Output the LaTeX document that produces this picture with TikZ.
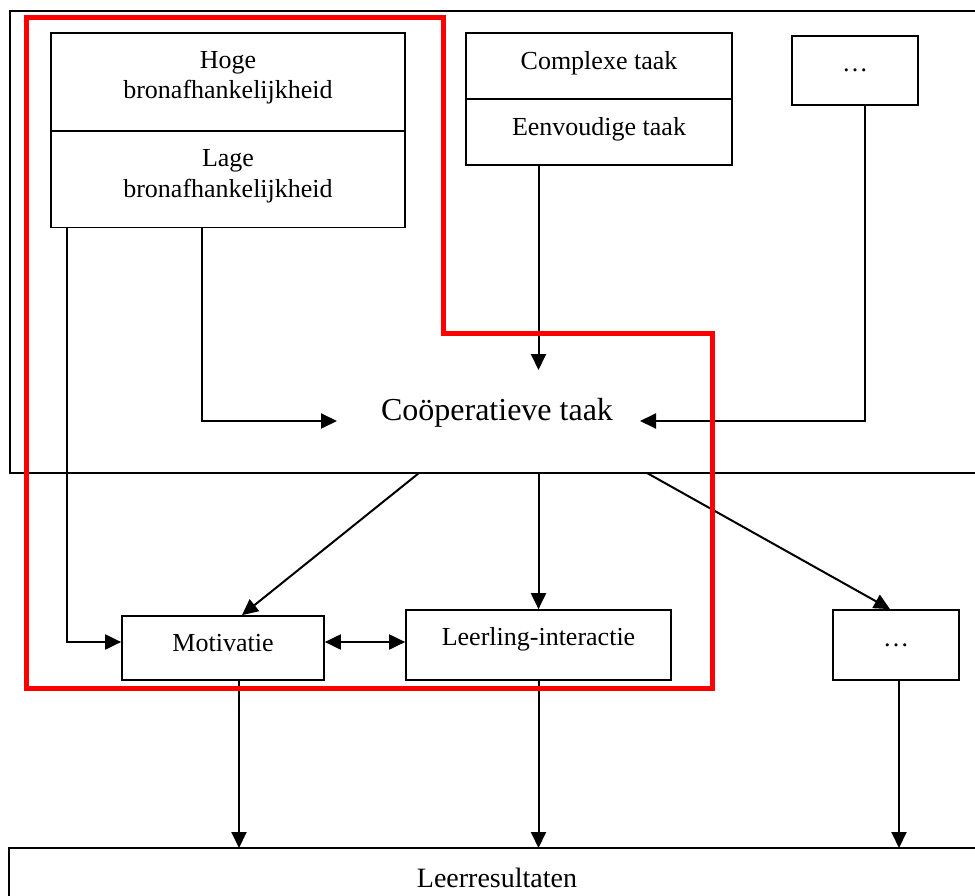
\documentclass[tikz,border=0pt]{standalone}
\usepackage{fontspec}
\setmainfont{Liberation Serif}
\usetikzlibrary{arrows.meta,calc}
\begin{document}
\begin{tikzpicture}[x=1pt,y=-1pt,
  box/.style={draw,line width=1.7pt,inner sep=0pt,align=center,font=\fontsize{26}{30.5}\selectfont},
  arr/.style={line width=2pt,-{Triangle[length=16pt,width=15pt]}},
  darr/.style={line width=2pt,{Triangle[length=16pt,width=15pt]}-{Triangle[length=16pt,width=15pt]}},
  frame/.style={line width=1.7pt},
  redline/.style={draw=red,line width=5pt,line join=miter}]
\useasboundingbox (0,0) rectangle (975,896);
\fill[white] (0,0) rectangle (975,896);
% frames
\draw[frame] (976,11) -- (10,11) -- (10,473) -- (976,473);
\draw[frame] (976,848) -- (9,848) -- (9,897);
% nodes
\node[box,minimum width=354pt,minimum height=98pt,text depth=14pt] (hoge) at (228,82) {Hoge\\bronafhankelijkheid};
\node[box,minimum width=354pt,minimum height=97pt,text depth=11pt] (lage) at (228,179) {Lage\\bronafhankelijkheid};
\node[box,minimum width=266pt,minimum height=66pt,text depth=11.6pt] (complexe) at (599,66) {Complexe taak};
\node[box,minimum width=266pt,minimum height=66pt,text depth=11.6pt] (eenvoudig) at (599,132) {Eenvoudige taak};
\node[box,minimum width=126pt,minimum height=69pt] (dotsA) at (855,70.5) {…};
\node[anchor=base,inner sep=0pt,font=\fontsize{32}{38}\selectfont] (coop) at (497,420) {Coöperatieve taak};
\node[box,minimum width=202pt,minimum height=64pt,text depth=10pt] (motiv) at (223,648) {Motivatie};
\node[box,minimum width=265pt,minimum height=70pt,text depth=18pt] (leerling) at (538.5,645) {Leerling-interactie};
\node[box,minimum width=126pt,minimum height=70pt] (dotsB) at (896,645) {…};
\node[anchor=base,inner sep=0pt,font=\fontsize{28}{34}\selectfont] (leer) at (497,887) {Leerresultaten};
% coordinates
\coordinate (lrtop) at (0,848);
\coordinate (coopL) at (337,421);
\coordinate (coopR) at (640,421);
\coordinate (coopT) at (538.5,370);
\coordinate (b1) at (419,473);
\coordinate (b2) at (538.5,473);
\coordinate (b3) at (647,473);
\coordinate (lm) at ([yshift=6pt]motiv.west);
\coordinate (dm) at ([yshift=6pt]motiv.east);
\coordinate (md) at ([xshift=16pt]motiv.south);
\coordinate (dd) at ([xshift=3pt]dotsB.south);
% connectors
\draw[arr] ([xshift=17pt]lage.south west) |- (lm);
\draw[arr] ([xshift=152pt]lage.south west) |- (coopL);
\draw[arr] (coopT |- eenvoudig.south) -- (coopT);
\draw[arr] ([xshift=10pt]dotsA.south) |- (coopR);
\draw[arr] (b1) -- ([xshift=19pt]motiv.north);
\draw[arr] (b2) -- (leerling.north);
\draw[arr] (b3) -- ([xshift=-6pt]dotsB.north);
\draw[darr] (dm) -- (dm -| leerling.west);
\draw[arr] (md) -- (md |- lrtop);
\draw[arr] (leerling.south) -- (leerling.south |- lrtop);
\draw[arr] (dd) -- (dd |- lrtop);
% red outline
\draw[redline] (26,18) -- (443,18) -- (443,333) -- (712,333) -- (712,688) -- (26,688) -- cycle;
\end{tikzpicture}
\end{document}
